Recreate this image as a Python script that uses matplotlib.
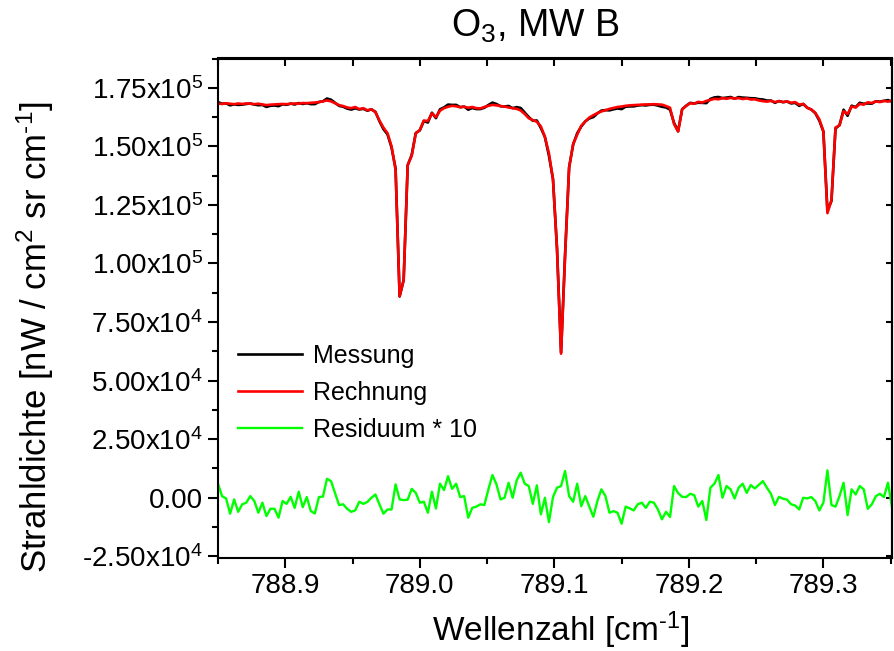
import numpy as np
import matplotlib
matplotlib.use("Agg")
import matplotlib.pyplot as plt
from matplotlib.ticker import MultipleLocator, NullFormatter

plt.rcParams['font.family'] = ['Liberation Sans', 'DejaVu Sans']
plt.rcParams['mathtext.fontset'] = 'custom'
plt.rcParams['mathtext.rm'] = 'Liberation Sans'
plt.rcParams['mathtext.it'] = 'Liberation Sans:italic'
plt.rcParams['mathtext.bf'] = 'Liberation Sans:bold'
plt.rcParams['mathtext.default'] = 'regular'

# spectrum sampling (cm^-1)
wn_start = 788.85
wn_step = 0.003

# calculated radiance, in 1e3 nW/(cm2 sr cm-1)
rechnung = [
    168.3, 168.1, 168.4, 168.2, 168.0, 168.3, 168.1, 168.3, 168.2, 168.0,
    168.2, 167.9, 167.6, 167.8, 167.9, 168.0, 168.1, 168.0, 168.2, 168.3,
    168.2, 168.5, 168.4, 168.6, 168.7, 168.9, 169.2, 169.6, 169.2, 168.4,
    167.6, 167.2, 166.6, 166.3, 166.8, 165.9, 166.3, 165.4, 165.8, 164.6,
    161.0, 158.0, 155.6, 150.0, 140.0, 86.0, 93.0, 142.0, 146.0, 155.5,
    157.0, 161.0, 160.8, 164.1, 162.5, 165.2, 166.3, 166.9, 167.3, 167.1,
    166.7, 166.9, 166.5, 166.8, 166.3, 166.2, 166.8, 167.3, 167.7, 167.5,
    167.2, 167.0, 166.6, 166.3, 166.0, 165.3, 163.8, 162.0, 161.2, 160.5,
    158.5, 154.0, 147.0, 136.0, 106.0, 61.5, 103.0, 141.0, 151.0, 155.0,
    158.8, 160.6, 162.3, 163.3, 164.2, 164.9, 165.4, 166.0, 166.4, 166.8,
    167.0, 167.3, 167.5, 167.6, 167.7, 167.8, 167.9, 167.9, 168.0, 167.9,
    167.8, 167.2, 166.5, 159.5, 156.3, 165.8, 167.3, 168.4, 168.2, 169.0,
    168.7, 169.4, 169.8, 170.3, 170.1, 170.6, 170.3, 170.7, 170.4, 170.6,
    170.2, 170.5, 170.0, 170.1, 169.6, 169.3, 169.1, 169.4, 168.9, 169.3,
    168.9, 169.2, 168.6, 168.9, 167.8, 168.1, 166.5, 165.7, 164.3, 161.5,
    156.5, 121.5, 127.0, 158.0, 159.0, 165.0, 163.8, 167.0, 166.6, 168.1,
    167.8, 168.8, 168.5, 169.2, 168.9, 169.4, 169.1, 169.5,
]

# residual (Messung - Rechnung) * 10, in 1e3
residuum = [
    6.0, 0.7, -0.3, -6.8, -0.7, -6.0, -2.8, -2.1, 0.7, -1.4,
    -6.4, -2.1, -7.8, -4.7, -4.7, -8.5, -1.4, -2.6, 0.4, -4.3,
    2.6, -4.0, 0.3, -5.7, -6.7, 0.3, 0.5, 8.1, 7.1, 2.0,
    -3.1, -2.8, -4.7, -6.0, -5.4, -1.7, -2.6, -1.8, 0.0, 1.4,
    -2.8, -6.8, -5.0, -5.0, 5.7, -0.7, -1.0, -0.8, 3.8, 2.1,
    -2.1, -1.7, -6.4, 2.6, -4.6, 6.0, 3.3, 9.2, 3.8, 6.0,
    0.3, 0.7, -8.5, -4.3, -3.8, -2.8, -3.1, 3.6, 9.7, 5.7,
    -0.7, 0.0, 6.4, 0.0, 7.4, 10.7, 6.0, 5.0, -2.6, 5.3,
    -7.1, 0.0, -10.4, 0.3, 4.3, 5.0, 11.4, 0.7, -1.7, 6.0,
    -3.6, 0.7, -3.8, -8.1, -1.4, 3.6, 0.7, -6.4, -5.7, -6.4,
    -11.1, -3.8, -4.5, -5.4, -2.8, -2.1, -4.3, -1.7, -2.1, -5.0,
    -9.2, -6.0, -8.2, 5.0, 2.0, 0.4, 0.3, 1.7, 1.1, -3.8,
    -1.4, -9.5, 4.3, 6.0, 9.7, 0.0, 5.0, 3.6, -0.3, 4.3,
    6.0, 2.1, 5.4, 4.0, 5.5, 7.1, 4.3, 1.7, -3.1, 0.4,
    -0.4, -0.8, -2.8, -3.3, -5.0, 0.0, -0.3, 0.3, -1.4, -5.4,
    -2.1, 11.7, -3.1, -3.8, 0.7, 6.4, -7.4, 3.6, 1.4, 5.0,
    3.6, -4.7, -2.8, 0.7, 1.7, 0.3, 6.4, -4.0,
]

ytick_vals = [-25000, 0, 25000, 50000, 75000, 100000, 125000, 150000, 175000]
ytick_labels = ['-2.50x10$^4$', '0.00', '2.50x10$^4$', '5.00x10$^4$', '7.50x10$^4$',
                '1.00x10$^5$', '1.25x10$^5$', '1.50x10$^5$', '1.75x10$^5$']
xtick_vals = [788.9, 789.0, 789.1, 789.2, 789.3]
xtick_labels = ['788.9', '789.0', '789.1', '789.2', '789.3']

wellenzahl = wn_start + wn_step * np.arange(len(rechnung))
rech = np.array(rechnung) * 1000
resid = np.array(residuum) * 1000
mess = rech + resid / 10

fig = plt.figure(figsize=(8.95, 6.51), dpi=100)
ax = fig.add_axes([218 / 895, 1 - 557.5 / 651, 674 / 895, 499 / 651])

ax.plot(wellenzahl, mess, color='black', lw=1.9, label='Messung')
ax.plot(wellenzahl, rech, color='#ff0000', lw=1.9, label='Rechnung')
ax.plot(wellenzahl, resid, color='#00ff00', lw=1.7, label='Residuum * 10')

ax.set_xlim(788.85, 789.351)
ax.set_ylim(-25500, 187500)

ax.set_xticks(xtick_vals, xtick_labels)
ax.set_yticks(ytick_vals, ytick_labels)
ax.xaxis.set_minor_locator(MultipleLocator(0.05))
ax.yaxis.set_minor_locator(MultipleLocator(12500))
ax.tick_params(axis='both', which='major', direction='out', length=7, width=1.5,
               labelsize=20, pad=4, top=False, right=False)
ax.tick_params(axis='both', which='minor', direction='out', length=4, width=1.5,
               top=False, right=False)
for s in ax.spines.values():
    s.set_linewidth(1.5)

# top and right axes: inward ticks, no labels
top = ax.secondary_xaxis('top')
top.xaxis.set_major_locator(MultipleLocator(0.05))
top.xaxis.set_major_formatter(NullFormatter())
top.tick_params(direction='in', length=6, width=1.5)
top.spines['top'].set_linewidth(1.5)
right = ax.secondary_yaxis('right')
right.set_yticks(ytick_vals)
right.yaxis.set_major_formatter(NullFormatter())
right.tick_params(direction='in', length=4, width=1.5)
right.spines['right'].set_linewidth(1.5)

leg = ax.legend(loc='upper left', bbox_to_anchor=(0.0297, 0.428), frameon=False,
                fontsize=18, borderpad=0, borderaxespad=0, handlelength=2.56,
                handletextpad=0.44, labelspacing=0.52)

fig.text(535 / 895, 1 - 26 / 651, 'O$_3$, MW B', fontsize=27, ha='center', va='center')
fig.text(561 / 895, 1 - 630 / 651, r'Wellenzahl [cm$^{\text{-}1}$]', fontsize=24,
         ha='center', va='center')
fig.text(35 / 895, 1 - 337 / 651, r'Strahldichte [nW / cm$^2$ sr cm$^{\text{-}1}$]',
         fontsize=25, ha='center', va='center', rotation=90)

fig.savefig('out.png', dpi=100)
